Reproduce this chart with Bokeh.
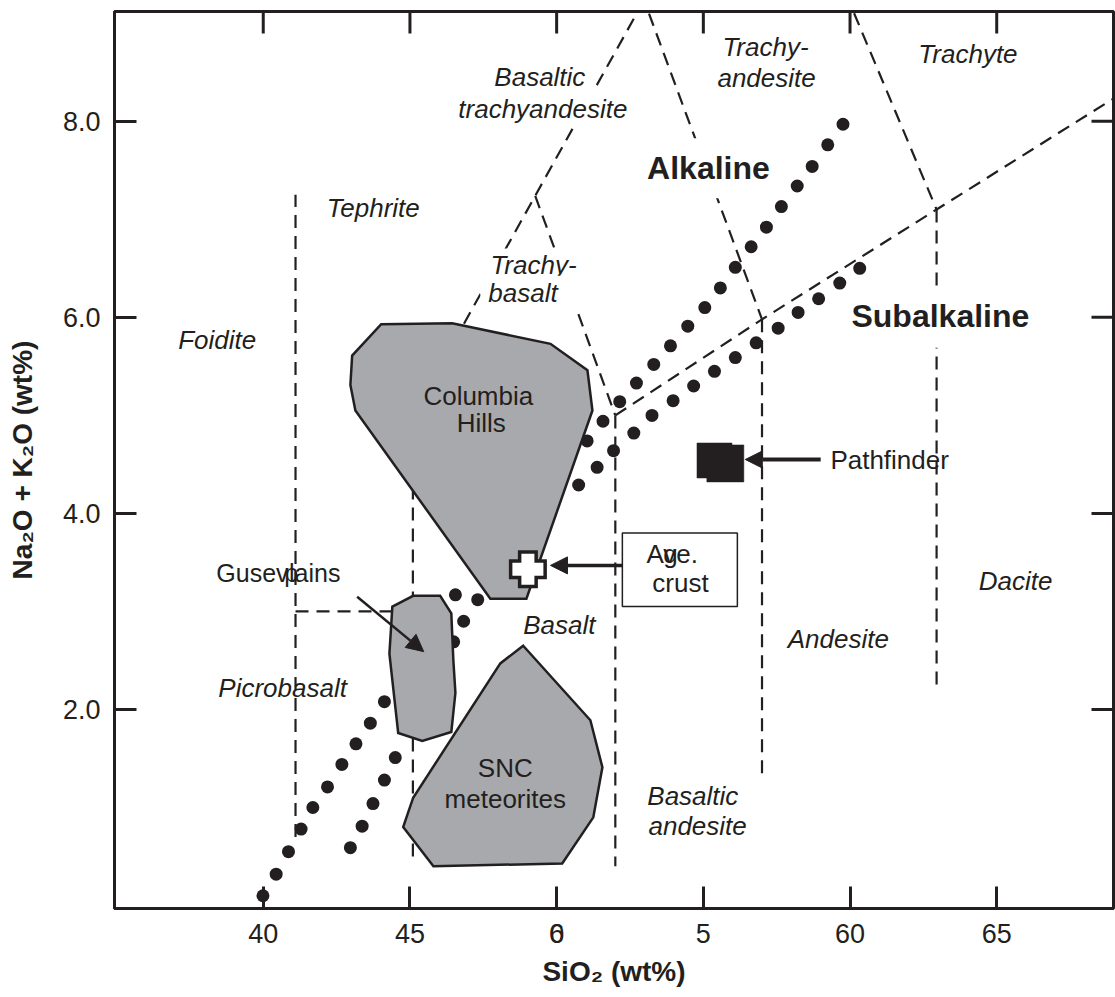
from bokeh.plotting import figure
from bokeh.models import Range1d, FixedTicker, Label, Arrow, NormalHead, AllLabels
from bokeh.embed import file_html
from bokeh.resources import INLINE

# ---------------- data ----------------
x_ticks = [40, 45, 50, 55, 60, 65]
x_tick_labels = ["40", "45", "6", "5", "60", "65"]
x_overlay_tick = 50.0001          # second glyph printed on top of the "6"
x_overlay_text = "0"
y_ticks = [2, 4, 6, 8]
y_tick_labels = ["2.0", "4.0", "6.0", "8.0"]

X_MIN, X_MAX = 34.93, 68.98
Y_MIN, Y_MAX = -0.03, 9.12

# TAS field boundaries (SiO2 wt%, Na2O+K2O wt%)
boundary_x = [
    [41.1, 41.1],
    [41.1, 45.1],
    [45.1, 45.1],
    [45.1, 49.27, 53.1],
    [49.27, 52.0],
    [52.0, 57.0, 62.95, 69.5],
    [52.9, 57.0],
    [52.0, 52.0],
    [57.0, 57.0],
    [59.86, 62.95],
    [62.95, 62.95],
]
boundary_y = [
    [0.7, 7.25],
    [3.0, 3.0],
    [0.5, 5.0],
    [5.0, 7.24, 9.3],
    [7.24, 5.0],
    [5.0, 5.98, 7.1, 8.33],
    [9.3, 5.98],
    [5.0, 0.4],
    [5.98, 1.28],
    [9.3, 7.1],
    [7.1, 2.2],
]

# dotted alkaline / subalkaline dividing lines (visible dots)
dots_a_x = [39.99, 40.44, 40.86, 41.29, 41.69, 42.19, 42.68, 43.16, 43.65, 44.13,
            46.55, 51.04, 51.58, 52.15, 52.72, 53.31, 53.88, 54.47, 55.05, 55.58,
            56.09, 56.63, 57.15, 57.66, 58.20, 58.71, 59.24, 59.76]
dots_a_y = [0.10, 0.32, 0.55, 0.78, 1.00, 1.21, 1.44, 1.65, 1.86, 2.08,
            3.17, 4.74, 4.94, 5.14, 5.33, 5.52, 5.71, 5.91, 6.10, 6.30,
            6.51, 6.72, 6.92, 7.13, 7.34, 7.54, 7.76, 7.97]
dots_b_x = [42.97, 43.37, 43.74, 44.13, 44.50, 46.49, 46.83, 47.31, 50.75, 51.38,
            51.94, 52.63, 53.25, 53.97, 54.67, 55.38, 56.09, 56.80, 57.55, 58.23,
            58.93, 59.65, 60.33]
dots_b_y = [0.59, 0.81, 1.04, 1.28, 1.51, 2.69, 2.90, 3.12, 4.29, 4.47,
            4.64, 4.82, 5.00, 5.15, 5.30, 5.45, 5.59, 5.74, 5.89, 6.05,
            6.19, 6.35, 6.50]

# compositional fields
columbia_x = [44.02, 46.44, 49.79, 51.05, 51.22, 48.97, 47.74, 43.14, 42.97, 43.03]
columbia_y = [5.93, 5.94, 5.73, 5.46, 5.05, 3.13, 3.13, 5.05, 5.31, 5.61]
gusev_x = [44.40, 45.11, 46.03, 46.41, 46.48, 46.55, 46.41, 45.42, 44.60, 44.30]
gusev_y = [3.05, 3.16, 3.16, 2.98, 2.50, 2.17, 1.77, 1.68, 1.76, 2.57]
snc_x = [48.86, 51.15, 51.56, 51.25, 50.19, 45.80, 44.77, 45.11, 48.08]
snc_y = [2.65, 1.89, 1.41, 0.90, 0.43, 0.40, 0.80, 1.10, 2.47]

# single analyses
pathfinder_x = [55.38, 55.75]
pathfinder_y = [4.54, 4.51]
avg_crust_x = [49.02]
avg_crust_y = [3.43]

# callout box around "Avg. crust"
crust_box = dict(left=52.24, right=56.16, bottom=3.05, top=3.80)

# arrows (x_start, y_start, x_end, y_end)
arrow_pathfinder = (59.0, 4.55, 56.43, 4.55)
arrow_crust = (52.24, 3.47, 49.79, 3.47)
arrow_gusev = (43.2, 3.15, 45.47, 2.59)

# field names (italic)
field_names = ["Basaltic", "trachyandesite", "Trachy-", "andesite", "Trachyte",
               "Tephrite", "Trachy-", "basalt", "Foidite", "Basalt", "Picrobasalt",
               "Andesite", "Basaltic", "andesite", "Dacite"]
field_x = [49.53, 49.53, 55.65, 55.48, 64.02, 43.75, 47.47, 47.40, 38.43, 50.09,
           40.66, 59.60, 53.09, 53.13, 65.64]
field_y = [8.45, 8.13, 8.76, 8.44, 8.69, 7.12, 6.53, 6.24, 5.77, 2.86, 2.22,
           2.72, 1.12, 0.81, 3.31]
field_align = ["center", "center", "left", "left", "center", "center", "left", "left",
               "center", "center", "center", "center", "left", "left", "center"]

# ---------------- styles ----------------
INK = "#231f20"
GRAY = "#a7a9ac"
FONT = "Liberation Sans"
TICK_PX = 22

p = figure(width=1115, height=997, output_backend="svg", toolbar_location=None,
           x_range=Range1d(X_MIN, X_MAX), y_range=Range1d(Y_MIN, Y_MAX),
           min_border_left=114, min_border_right=2, min_border_top=11,
           min_border_bottom=89,
           x_axis_label="SiO₂ (wt%)", y_axis_label="Na₂O + K₂O (wt%)")
p.grid.visible = False
p.outline_line_color = INK
p.outline_line_width = 3
p.background_fill_color = "white"
p.border_fill_color = "white"

xt = dict(zip(x_ticks, x_tick_labels))
xt[x_overlay_tick] = x_overlay_text
yt = dict(zip(y_ticks, y_tick_labels))


def style_axis(ax, ticks, labels):
    ax.ticker = FixedTicker(ticks=ticks)
    ax.axis_line_width = 3
    ax.axis_line_color = INK
    ax.major_tick_in = TICK_PX
    ax.major_tick_out = 0
    ax.major_tick_line_width = 3
    ax.major_tick_line_color = INK
    ax.minor_tick_in = 0
    ax.minor_tick_out = 0
    ax.minor_tick_line_color = None
    ax.major_label_overrides = labels
    ax.major_label_policy = AllLabels()
    ax.major_label_text_font = FONT
    ax.major_label_text_font_size = "27px"
    ax.major_label_text_color = INK
    ax.axis_label_text_font = FONT
    ax.axis_label_text_font_size = "28px"
    ax.axis_label_text_font_style = "bold"
    ax.axis_label_text_color = INK


style_axis(p.xaxis[0], sorted(x_ticks + [x_overlay_tick]), xt)
p.xaxis[0].major_label_standoff = 15
p.xaxis[0].axis_label_standoff = 10
style_axis(p.yaxis[0], y_ticks, yt)
p.yaxis[0].major_label_standoff = 14
p.yaxis[0].axis_label_standoff = 22

# inward ticks on the top and right frame edges (same tick values)
x_per_px = (X_MAX - X_MIN) / 999.0
y_per_px = (Y_MAX - Y_MIN) / 897.0
p.segment(x0=x_ticks, y0=[Y_MAX] * len(x_ticks), x1=x_ticks,
          y1=[Y_MAX - TICK_PX * y_per_px] * len(x_ticks),
          line_color=INK, line_width=3)
p.segment(x0=[X_MAX] * len(y_ticks), y0=y_ticks,
          x1=[X_MAX - TICK_PX * x_per_px] * len(y_ticks), y1=y_ticks,
          line_color=INK, line_width=3)

# boundaries
p.multi_line(xs=boundary_x, ys=boundary_y, line_color=INK, line_width=2.2,
             line_dash="13 8")

# dotted divides
p.scatter(dots_a_x, dots_a_y, size=13, fill_color=INK, line_color=None)
p.scatter(dots_b_x, dots_b_y, size=13, fill_color=INK, line_color=None)

# fields
for fx, fy in [(columbia_x, columbia_y), (gusev_x, gusev_y), (snc_x, snc_y)]:
    p.patch(fx, fy, fill_color=GRAY, line_color=INK, line_width=2.5,
            line_join="miter")

# callout box
p.quad(left=[crust_box["left"]], right=[crust_box["right"]],
       bottom=[crust_box["bottom"]], top=[crust_box["top"]],
       fill_color="white", line_color=INK, line_width=1.5)

# Pathfinder squares
p.scatter(pathfinder_x, pathfinder_y, marker="square", size=[35, 37],
          fill_color=INK, line_color=INK, line_width=0.5)

# average crust: white plus with black outline
p.scatter(avg_crust_x, avg_crust_y, marker="cross", size=38, line_width=20,
          line_color=INK)
p.scatter(avg_crust_x, avg_crust_y, marker="cross", size=31, line_width=13,
          line_color="white")

# arrows
for (x0, y0, x1, y1), lw in [(arrow_pathfinder, 4), (arrow_crust, 3.5), (arrow_gusev, 2.5)]:
    p.add_layout(Arrow(x_start=x0, y_start=y0, x_end=x1, y_end=y1,
                       line_color=INK, line_width=lw,
                       end=NormalHead(size=17, fill_color=INK, line_color=INK,
                                      line_width=1)))


def label(txt, x, y, size="26px", style="normal", align="center", bg=None,
          pad=None, baseline="middle"):
    kw = dict(x=x, y=y, text=txt, text_font=FONT, text_font_size=size,
              text_font_style=style, text_color=INK, text_align=align,
              text_baseline=baseline)
    if bg is not None:
        kw["background_fill_color"] = bg
        kw["background_fill_alpha"] = 1.0
    if pad is not None:
        kw["padding"] = pad
    p.add_layout(Label(**kw))


# field names; some carry a white box that interrupts the dashed lines
pads = {0: dict(left=2, right=8, top=2, bottom=2),
        1: dict(left=2, right=2, top=2, bottom=2),
        6: dict(left=8, right=10, top=2, bottom=2),
        7: dict(left=8, right=28, top=2, bottom=4)}
for i, (t, fx, fy, al) in enumerate(zip(field_names, field_x, field_y, field_align)):
    if i in pads:
        label(t, fx, fy, style="italic", align=al, bg="white", pad=pads[i])
    else:
        label(t, fx, fy, style="italic", align=al)

label("Alkaline", 55.14, 7.52, size="32px", style="bold", bg="white",
      pad=dict(left=4, right=2, top=12, bottom=12))
label("Subalkaline", 63.08, 5.99, size="32px", style="bold", bg="white",
      pad=dict(left=2, right=2, top=9, bottom=14))

label("Columbia", 47.33, 5.20)
label("Hills", 47.43, 4.92)
label("SNC", 48.25, 1.40)
label("meteorites", 48.25, 1.09)
# "Gusev plains" as printed: the "p" sits on top of "la"
label("Gusev", 38.40, 3.39, size="25px", align="left")
label("lains", 40.88, 3.39, size="25px", align="left")
label("p", 40.72, 3.39, size="25px", align="left")
label("Pathfinder", 59.33, 4.54, align="left")
label("Ave.", 53.94, 3.59)
label("g", 53.88, 3.59)
label("crust", 54.22, 3.29)

html = file_html(p, INLINE, "TAS diagram")
with open("out.html", "w") as f:
    f.write(html)
